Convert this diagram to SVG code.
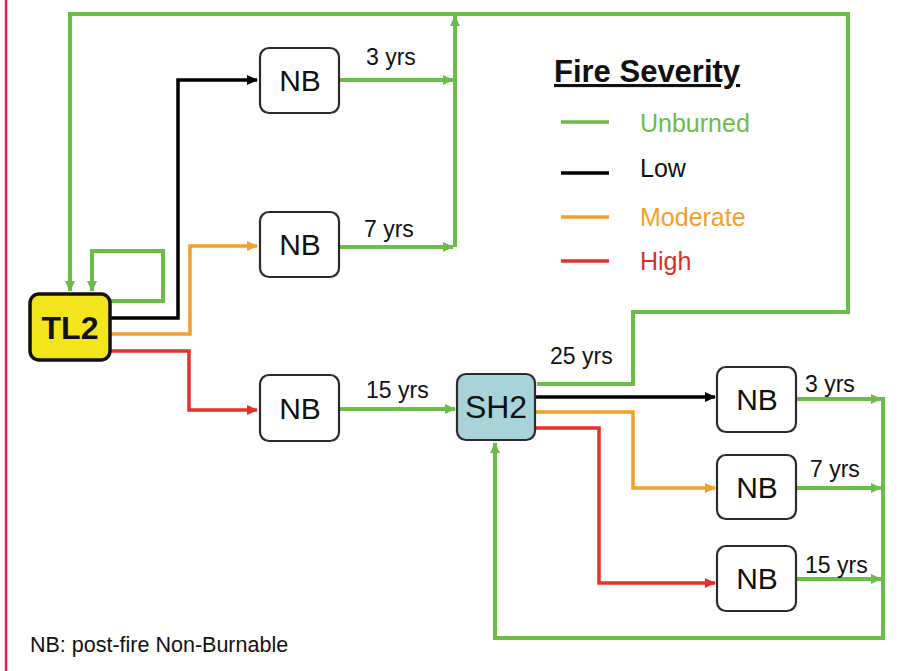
<svg xmlns="http://www.w3.org/2000/svg" width="898" height="671" viewBox="0 0 898 671">
<style>
text{font-family:"Liberation Sans",Arial,sans-serif;}
.nb rect{fill:#fff;stroke:#2b2b2b;stroke-width:2.2;}
.nb text{font-size:30px;fill:#111;text-anchor:middle;}
.lbl{font-size:23px;fill:#111;}
.g{fill:none;stroke:#6cbd48;stroke-width:4;}
.k{fill:none;stroke:#000;stroke-width:3.5;}
.o{fill:none;stroke:#f0a02e;stroke-width:3.5;}
.r{fill:none;stroke:#e2322a;stroke-width:3.5;}
.leg{font-size:25px;}
</style>
<defs>
<marker id="ag" markerUnits="userSpaceOnUse" markerWidth="12" markerHeight="12" refX="10" refY="6" orient="auto"><path d="M0,1 L11,6 L0,11 Z" fill="#6cbd48"/></marker>
<marker id="ak" markerUnits="userSpaceOnUse" markerWidth="12" markerHeight="12" refX="10" refY="6" orient="auto"><path d="M0,1 L11,6 L0,11 Z" fill="#000"/></marker>
<marker id="ao" markerUnits="userSpaceOnUse" markerWidth="12" markerHeight="12" refX="10" refY="6" orient="auto"><path d="M0,1 L11,6 L0,11 Z" fill="#f0a02e"/></marker>
<marker id="ar" markerUnits="userSpaceOnUse" markerWidth="12" markerHeight="12" refX="10" refY="6" orient="auto"><path d="M0,1 L11,6 L0,11 Z" fill="#e2322a"/></marker>
</defs>
<rect width="898" height="671" fill="#fff"/>
<line x1="6" y1="0" x2="6" y2="671" stroke="#e8204a" stroke-width="2.5"/>

<g id="connectors">
<!-- big top loop: SH2 25 yrs back to TL2 -->
<path class="g" d="M537,384 H633 V312 H848 V14 H70 V291" marker-end="url(#ag)"/>
<!-- merge vertical up to top -->
<path class="g" d="M455,247 V16" marker-end="url(#ag)"/>
<path class="g" d="M339,80 H453" marker-end="url(#ag)"/>
<path class="g" d="M339,247 H453" marker-end="url(#ag)"/>
<!-- self loop -->
<path class="g" d="M110,301 H163 V251 H92 V291" marker-end="url(#ag)"/>
<!-- TL2 outputs -->
<path class="k" d="M110,318 H178 V80 H257" marker-end="url(#ak)"/>
<path class="o" d="M110,334 H190 V246 H257" marker-end="url(#ao)"/>
<path class="r" d="M110,351 H189 V410 H257" marker-end="url(#ar)"/>
<!-- NB3 to SH2 -->
<path class="g" d="M339,409 H455" marker-end="url(#ag)"/>
<!-- SH2 outputs -->
<path class="k" d="M535,397 H715" marker-end="url(#ak)"/>
<path class="o" d="M535,412 H633 V488 H715" marker-end="url(#ao)"/>
<path class="r" d="M535,428 H599 V583 H715" marker-end="url(#ar)"/>
<!-- right NBs to return -->
<path class="g" d="M796,399 H881" marker-end="url(#ag)"/>
<path class="g" d="M796,488 H881" marker-end="url(#ag)"/>
<path class="g" d="M796,579 H881" marker-end="url(#ag)"/>
<path class="g" d="M883,397 V638 H495 V443" marker-end="url(#ag)"/>
</g>

<g id="labels">
<text class="lbl" x="366" y="65">3 yrs</text>
<text class="lbl" x="364" y="237">7 yrs</text>
<text class="lbl" x="366" y="398">15 yrs</text>
<text class="lbl" x="550" y="364">25 yrs</text>
<text class="lbl" x="805" y="392">3 yrs</text>
<text class="lbl" x="810" y="477">7 yrs</text>
<text class="lbl" x="805" y="573">15 yrs</text>
</g>

<g id="TL2">
<rect x="30" y="294" width="80" height="66" rx="9" fill="#f2e51c" stroke="#111" stroke-width="3.5"/>
<text x="70" y="339" font-size="32" font-weight="bold" text-anchor="middle" fill="#111">TL2</text>
</g>
<g id="NB1" class="nb"><rect x="260" y="48" width="79" height="65" rx="9"/><text x="300" y="91">NB</text></g>
<g id="NB2" class="nb"><rect x="260" y="212" width="79" height="65" rx="9"/><text x="300" y="255">NB</text></g>
<g id="NB3" class="nb"><rect x="260" y="375" width="79" height="66" rx="9"/><text x="300" y="419">NB</text></g>
<g id="SH2">
<rect x="457" y="374" width="78" height="66" rx="9" fill="#a9d3da" stroke="#2b2b2b" stroke-width="2.2"/>
<text x="496" y="418" font-size="32" text-anchor="middle" fill="#111">SH2</text>
</g>
<g id="NB4" class="nb"><rect x="717" y="367" width="79" height="65" rx="9"/><text x="757" y="410">NB</text></g>
<g id="NB5" class="nb"><rect x="717" y="455" width="79" height="64" rx="9"/><text x="757" y="498">NB</text></g>
<g id="NB6" class="nb"><rect x="717" y="546" width="79" height="65" rx="9"/><text x="757" y="589">NB</text></g>

<g id="legend">
<text x="554" y="82" font-size="31" font-weight="bold" fill="#111" text-decoration="underline">Fire Severity</text>
<line x1="561" y1="122" x2="609" y2="122" stroke="#6cbd48" stroke-width="3.5"/>
<text class="leg" x="640" y="132" fill="#6cbd48">Unburned</text>
<line x1="561" y1="173" x2="609" y2="173" stroke="#000" stroke-width="3.5"/>
<text class="leg" x="640" y="177" fill="#111">Low</text>
<line x1="561" y1="217" x2="609" y2="217" stroke="#f0a02e" stroke-width="3.5"/>
<text class="leg" x="640" y="226" fill="#f0a02e">Moderate</text>
<line x1="561" y1="261" x2="609" y2="261" stroke="#e2322a" stroke-width="3.5"/>
<text class="leg" x="640" y="270" fill="#d9302a">High</text>
</g>

<text x="30" y="652" font-size="21.5" fill="#111">NB: post-fire Non-Burnable</text>
</svg>
